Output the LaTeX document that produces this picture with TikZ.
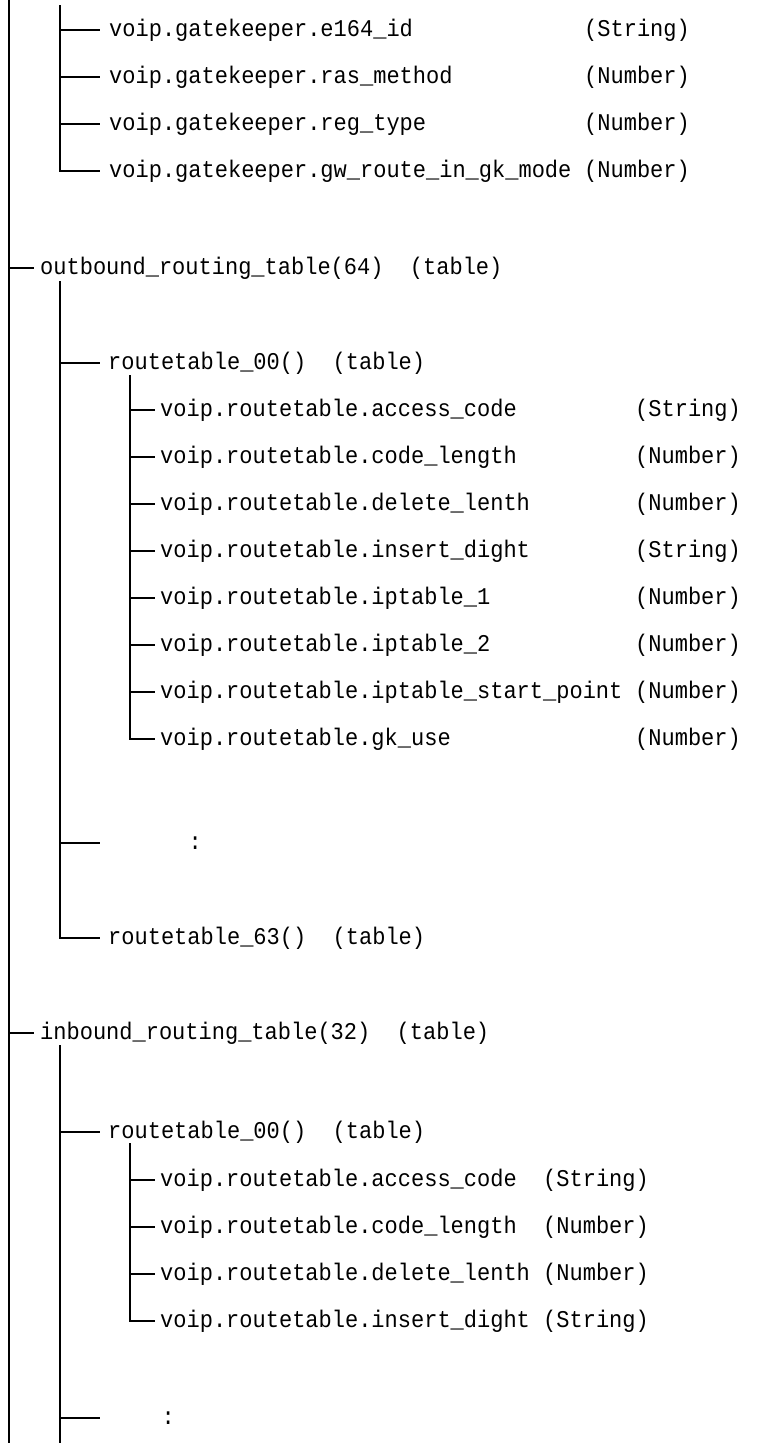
\documentclass[tikz,border=0pt]{standalone}
\usepackage{fontspec}
\newfontfamily\tf[FakeStretch=0.917]{Liberation Mono}
\begin{document}
\begin{tikzpicture}[x=1pt,y=-1pt,
  txt/.style={anchor=west, inner sep=0pt, text height=16pt, text depth=4pt,
              font=\tf\fontsize{24}{28}\selectfont},
  wire/.style={line width=1.6pt, draw=black}]
\useasboundingbox (0,0) rectangle (758,1443);

% root line
\coordinate (r0) at (9,0);
\coordinate (r1) at (9,1443);
\draw[wire] (r0) -- (r1);

% ---- gatekeeper group ----
\coordinate (gv) at (60,5);
\node[txt] (g1) at (109,30)  {voip.gatekeeper.e164\_id};
\node[txt] (g2) at (109,77)  {voip.gatekeeper.ras\_method};
\node[txt] (g3) at (109,124) {voip.gatekeeper.reg\_type};
\node[txt] (g4) at (109,171) {voip.gatekeeper.gw\_route\_in\_gk\_mode};
\node[txt] (g1t) at (584,30)  {(String)};
\node[txt] (g2t) at (584,77)  {(Number)};
\node[txt] (g3t) at (584,124) {(Number)};
\node[txt] (g4t) at (584,171) {(Number)};
\draw[wire] (gv) |- ([xshift=-9pt]g4.west);
\foreach \n in {g1,g2,g3} \draw[wire] (gv |- \n.west) -- ([xshift=-9pt]\n.west);

% ---- outbound ----
\node[txt] (ob) at (40,268) {outbound\_routing\_table(64)\ \ (table)};
\draw[wire] (r0 |- ob.west) -- ([xshift=-6pt]ob.west);
\coordinate (ov) at (60,281);
\node[txt] (o0) at (108,363) {routetable\_00()\ \ (table)};
\coordinate (odb) at (100,843);
\node[txt] (odt) at (188.4,843) {:};
\node[txt] (o63) at (108,938) {routetable\_63()\ \ (table)};
\draw[wire] (ov) |- ([xshift=-8pt]o63.west);
\draw[wire] (ov |- o0.west) -- ([xshift=-8pt]o0.west);
\draw[wire] (ov |- odb) -- (odb);

\coordinate (o3v) at (130,375);
\node[txt] (oa1) at (160,410) {voip.routetable.access\_code};
\node[txt] (oa2) at (160,457) {voip.routetable.code\_length};
\node[txt] (oa3) at (160,504) {voip.routetable.delete\_lenth};
\node[txt] (oa4) at (160,551) {voip.routetable.insert\_dight};
\node[txt] (oa5) at (160,598) {voip.routetable.iptable\_1};
\node[txt] (oa6) at (160,645) {voip.routetable.iptable\_2};
\node[txt] (oa7) at (160,692) {voip.routetable.iptable\_start\_point};
\node[txt] (oa8) at (160,739) {voip.routetable.gk\_use};
\node[txt] (oa1t) at (635,410) {(String)};
\node[txt] (oa2t) at (635,457) {(Number)};
\node[txt] (oa3t) at (635,504) {(Number)};
\node[txt] (oa4t) at (635,551) {(String)};
\node[txt] (oa5t) at (635,598) {(Number)};
\node[txt] (oa6t) at (635,645) {(Number)};
\node[txt] (oa7t) at (635,692) {(Number)};
\node[txt] (oa8t) at (635,739) {(Number)};
\draw[wire] (o3v) |- ([xshift=-5pt]oa8.west);
\foreach \n in {oa1,oa2,oa3,oa4,oa5,oa6,oa7} \draw[wire] (o3v |- \n.west) -- ([xshift=-5pt]\n.west);

% ---- inbound ----
\node[txt] (ib) at (40,1033) {inbound\_routing\_table(32)\ \ (table)};
\draw[wire] (r0 |- ib.west) -- ([xshift=-6pt]ib.west);
\coordinate (iv) at (60,1045);
\coordinate (ivend) at (60,1443);
\draw[wire] (iv) -- (ivend);
\node[txt] (i0) at (108,1132) {routetable\_00()\ \ (table)};
\draw[wire] (iv |- i0.west) -- ([xshift=-8pt]i0.west);
\coordinate (idb) at (100,1418);
\node[txt] (idt) at (161.4,1418) {:};
\draw[wire] (iv |- idb) -- (idb);

\coordinate (i3v) at (130,1143);
\node[txt] (ia1) at (160,1180) {voip.routetable.access\_code};
\node[txt] (ia2) at (160,1227) {voip.routetable.code\_length};
\node[txt] (ia3) at (160,1274) {voip.routetable.delete\_lenth};
\node[txt] (ia4) at (160,1321) {voip.routetable.insert\_dight};
\node[txt] (ia1t) at (543,1180) {(String)};
\node[txt] (ia2t) at (543,1227) {(Number)};
\node[txt] (ia3t) at (543,1274) {(Number)};
\node[txt] (ia4t) at (543,1321) {(String)};
\draw[wire] (i3v) |- ([xshift=-5pt]ia4.west);
\foreach \n in {ia1,ia2,ia3} \draw[wire] (i3v |- \n.west) -- ([xshift=-5pt]\n.west);
\end{tikzpicture}
\end{document}
